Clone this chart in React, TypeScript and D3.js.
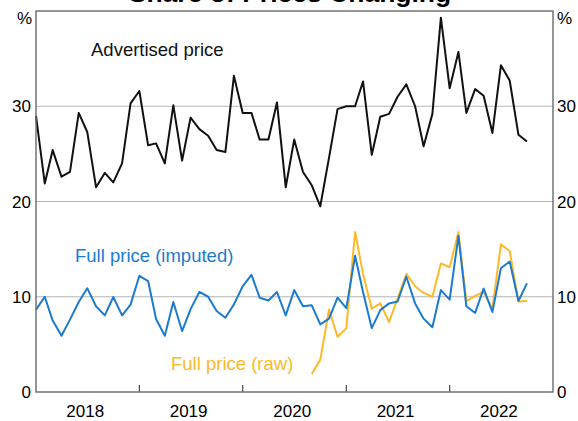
import * as d3 from "d3";

const W = 578;
const H = 421;
const MARGIN = { top: 11, right: 25, bottom: 29, left: 36 };

// monthly series, starting Jan 2018
const startMonth = new Date(2018, 0, 1);
const advertised = [
  29.0, 21.9, 25.4, 22.6, 23.1, 29.3, 27.3, 21.5, 23.0, 22.0, 24.0, 30.3,
  31.6, 25.9, 26.1, 24.0, 30.1, 24.3, 28.8, 27.6, 26.9, 25.4, 25.2, 33.2,
  29.3, 29.3, 26.5, 26.5, 30.4, 21.5, 26.5, 23.1, 21.7, 19.5, 24.6, 29.7,
  30.0, 30.0, 32.6, 24.9, 28.9, 29.2, 31.0, 32.3, 30.0, 25.8, 29.2, 39.3,
  31.9, 35.7, 29.3, 31.8, 31.1, 27.2, 34.3, 32.7, 27.0, 26.3,
];
const imputed = [
  8.65, 10.0, 7.5, 5.9, 7.6, 9.45, 10.9, 9.0, 8.05, 9.97, 8.05, 9.17,
  12.2, 11.65, 7.67, 5.9, 9.45, 6.4, 8.7, 10.5, 10.0, 8.5, 7.8, 9.2,
  11.1, 12.3, 9.9, 9.6, 10.5, 8.05, 10.7, 9.0, 9.1, 7.1, 7.7, 9.9,
  8.8, 14.3, 10.5, 6.7, 8.6, 9.3, 9.5, 12.1, 9.3, 7.7, 6.8, 10.7,
  9.7, 16.4, 9.0, 8.3, 10.85, 8.4, 13.0, 13.7, 9.55, 11.4,
];
// raw series starts Sep 2020
const rawStart = new Date(2020, 8, 1);
const raw = [
  1.9, 3.4, 8.65, 5.8,
  6.7, 16.8, 12.4, 8.75, 9.3, 7.35, 9.8, 12.4, 11.1, 10.4, 10.0, 13.5,
  13.1, 16.8, 9.55, 10.1, 10.5, 8.75, 15.5, 14.8, 9.5, 9.55,
];
const yTicks = [0, 10, 20, 30];
const years = [2018, 2019, 2020, 2021, 2022];

const FONT = "Arial, 'Liberation Sans', sans-serif";
const BLUE = "#1c7bd0";
const ORANGE = "#fdb927";

type Pt = { date: Date; value: number };

const toPoints = (start: Date, values: number[]): Pt[] =>
  values.map((v, i) => ({
    date: new Date(start.getFullYear(), start.getMonth() + i, 1),
    value: v,
  }));

export default function App() {
  const x = d3
    .scaleTime()
    .domain([new Date(2018, 0, 1), new Date(2023, 0, 1)])
    .range([MARGIN.left, W - MARGIN.right]);
  const y = d3
    .scaleLinear()
    .domain([0, 40])
    .range([H - MARGIN.bottom, MARGIN.top]);

  const line = d3
    .line<Pt>()
    .x((d) => x(d.date))
    .y((d) => y(d.value));

  const x0 = MARGIN.left;
  const x1 = W - MARGIN.right;
  const y0 = H - MARGIN.bottom;
  const y1 = MARGIN.top;

  return (
    <svg
      width={W}
      height={H}
      style={{ position: "absolute", left: 0, top: 0, background: "#fff" }}
      fontFamily={FONT}
    >
      <text
        x={290}
        y={2}
        textAnchor="middle"
        fontSize={26.5}
        fontWeight="bold"
      >
        Share of Prices Changing
      </text>

      {/* gridlines */}
      {yTicks
        .filter((t) => t > 0)
        .map((t) => (
          <line
            key={t}
            x1={x0}
            x2={x1}
            y1={y(t)}
            y2={y(t)}
            stroke="#b5b5b5"
            strokeWidth={1}
          />
        ))}

      {/* year ticks */}
      {years.slice(1).map((yr) => {
        const xp = x(new Date(yr, 0, 1));
        return (
          <line
            key={yr}
            x1={xp}
            x2={xp}
            y1={y0}
            y2={y0 - 7}
            stroke="#555"
            strokeWidth={1.3}
          />
        );
      })}

      <path
        d={line(toPoints(startMonth, advertised)) ?? ""}
        fill="none"
        stroke="#111"
        strokeWidth={2}
        strokeLinejoin="round"
      />
      <path
        d={line(toPoints(rawStart, raw)) ?? ""}
        fill="none"
        stroke={ORANGE}
        strokeWidth={2}
        strokeLinejoin="round"
      />
      <path
        d={line(toPoints(startMonth, imputed)) ?? ""}
        fill="none"
        stroke={BLUE}
        strokeWidth={2}
        strokeLinejoin="round"
      />

      {/* frame */}
      <rect
        x={x0}
        y={y1}
        width={x1 - x0}
        height={y0 - y1}
        fill="none"
        stroke="#6a6a6a"
        strokeWidth={1.4}
      />

      {/* y labels both sides */}
      {yTicks.map((t) => (
        <g key={t} fontSize={17}>
          <text x={x0 - 5} y={y(t)} dy="0.36em" textAnchor="end">
            {t}
          </text>
          <text x={x1 + 4} y={y(t)} dy="0.36em" textAnchor="start">
            {t}
          </text>
        </g>
      ))}
      <text x={x0 - 4} y={24} fontSize={17} textAnchor="end">
        %
      </text>
      <text x={x1 + 4} y={24} fontSize={17} textAnchor="start">
        %
      </text>

      {/* year labels */}
      {years.map((yr) => (
        <text
          key={yr}
          x={x(new Date(yr, 6, 1)) - 2}
          y={417}
          fontSize={17}
          textAnchor="middle"
        >
          {yr}
        </text>
      ))}

      {/* series labels */}
      <text x={91} y={55.5} fontSize={18.5} fill="#111">
        Advertised price
      </text>
      <text x={75} y={261.5} fontSize={18.5} fill={BLUE}>
        Full price (imputed)
      </text>
      <text x={171} y={370} fontSize={18.5} fill={ORANGE}>
        Full price (raw)
      </text>
    </svg>
  );
}
